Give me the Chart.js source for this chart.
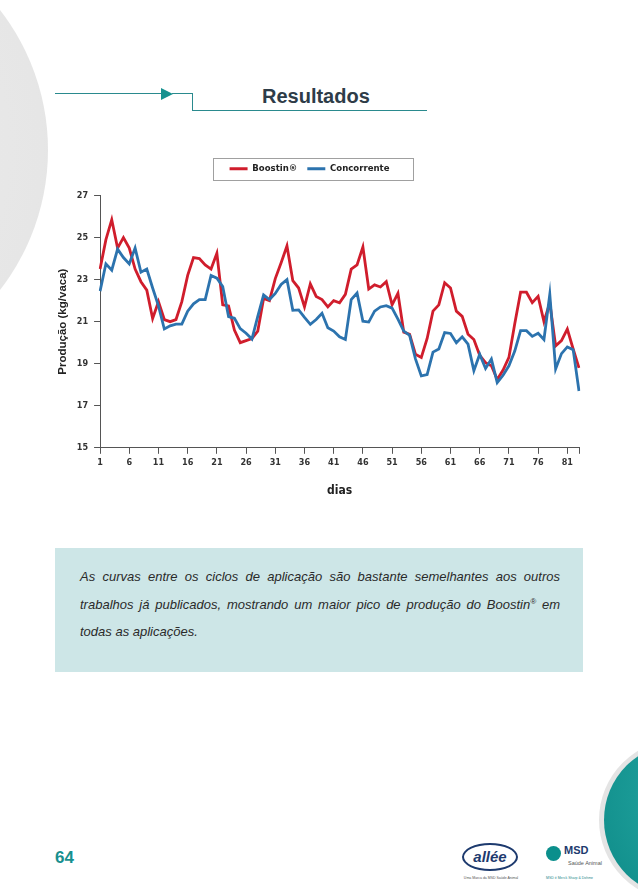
<!DOCTYPE html>
<html>
<head>
<meta charset="utf-8">
<script src="https://cdn.jsdelivr.net/npm/chart.js@4.4.1/dist/chart.umd.min.js"></script>
<style>
body{margin:0;width:638px;height:894px;position:relative;overflow:hidden;background:#fff;font-family:"Liberation Sans",Arial,sans-serif}
#bigCircle{position:absolute;left:-408px;top:-78px;width:456px;height:456px;border-radius:50%;background:radial-gradient(circle at 40% 50%,#eeeeee 0%,#e6e6e6 75%,#e0e0e0 100%)}
#ring{position:absolute;left:599px;top:739px;width:162px;height:162px;border-radius:50%;background:#e4e4e4}
#tealCircle{position:absolute;left:604px;top:743px;width:154px;height:154px;border-radius:50%;background:radial-gradient(circle at 75% 35%,#7cc6c3 0%,#1a9a96 55%,#0d8a87 100%)}
#head1{position:absolute;left:55px;top:93px;width:108px;height:1px;background:#2a8a8e}
#arrow{position:absolute;left:161px;top:88px;width:0;height:0;border-top:6px solid transparent;border-bottom:6px solid transparent;border-left:12px solid #16918f}
#head2{position:absolute;left:172px;top:93px;width:21px;height:1px;background:#2a8a8e}
#head3{position:absolute;left:192px;top:93px;width:1px;height:18px;background:#2a8a8e}
#head4{position:absolute;left:192px;top:110px;width:235px;height:1px;background:#2a8a8e}
#title{position:absolute;left:262px;top:85px;font-weight:bold;font-size:20px;color:#2e3c48}
#chartWrap{position:absolute;left:40px;top:150px;width:560px;height:352px}
#note{position:absolute;left:55px;top:548px;width:528px;height:124px;background:#cde6e7}
.ln{position:absolute;left:25px;width:480px;font-family:"Liberation Sans",Arial,sans-serif;font-style:italic;font-size:13px;color:#2a2a2a;text-align:justify;text-align-last:justify;white-space:nowrap}
.ln.last{text-align-last:left}
sup{font-size:8px;line-height:0}
#page{position:absolute;left:55px;top:848px;font-weight:bold;font-size:17px;color:#17908f}
#vallee{position:absolute;left:462px;top:843px;width:56px;height:28px;border:2px solid #1d3a6e;border-radius:50%;box-sizing:border-box;text-align:center;font-weight:bold;font-style:italic;font-size:15px;line-height:24px;color:#1d3a6e}
#valleeSub{position:absolute;left:454px;top:876px;width:74px;font-size:3.5px;color:#555;text-align:center}
#msdIcon{position:absolute;left:546px;top:846px;width:15px;height:15px;border-radius:50%;background:#0b8f8c}
#msd{position:absolute;left:564px;top:844px;font-weight:bold;font-size:11px;color:#1d3a6e}
#msdSub{position:absolute;left:568px;top:860px;font-size:5.5px;color:#555}
#msdSub2{position:absolute;left:546px;top:876px;font-size:3.5px;color:#2a8a8e}
</style>
</head>
<body>
<div id="bigCircle"></div>
<div id="ring"></div>
<div id="tealCircle"></div>
<div id="head1"></div><div id="arrow"></div><div id="head2"></div><div id="head3"></div><div id="head4"></div>
<div id="title">Resultados</div>
<div id="chartWrap"><canvas id="grafico" width="560" height="352"></canvas></div>
<div id="note">
  <div class="ln" style="top:21px">As curvas entre os ciclos de aplicação são bastante semelhantes aos outros</div>
  <div class="ln" style="top:49px">trabalhos já publicados, mostrando um maior pico de produção do Boostin<sup>®</sup> em</div>
  <div class="ln last" style="top:76px">todas as aplicações.</div>
</div>
<div id="page">64</div>
<div id="vallee">allée</div>
<div id="valleeSub">Uma Marca da MSD Saúde Animal</div>
<div id="msdIcon"></div>
<div id="msd">MSD</div>
<div id="msdSub">Saúde Animal</div>
<div id="msdSub2">MSD é Merck Sharp &amp; Dohme</div>

<script>
// dias 1..83
var dias = [];
for (var d = 1; d <= 83; d++) dias.push(String(d));

var boostin = [23.5, 24.9, 25.85, 24.5, 25.0, 24.5, 23.5, 22.9, 22.5, 21.15,
  21.95, 21.1, 21.0, 21.1, 21.95, 23.2, 24.05, 24.0, 23.7, 23.5,
  24.25, 21.8, 21.75, 20.6, 20.0, 20.1, 20.2, 20.55, 22.1, 22.0,
  23.05, 23.8, 24.6, 22.95, 22.6, 21.7, 22.8, 22.2, 22.05, 21.7,
  22.0, 21.9, 22.3, 23.5, 23.7, 24.55, 22.55, 22.75, 22.65, 22.9,
  21.8, 22.35, 20.5, 20.4, 19.45, 19.3, 20.2, 21.5, 21.8, 22.85,
  22.6, 21.5, 21.25, 20.4, 20.15, 19.4, 19.05, 18.9, 18.25, 18.7,
  19.3, 20.9, 22.4, 22.4, 21.9, 22.2, 21.0, 21.9, 19.85, 20.1,
  20.65, 19.7, 18.8];

var concorrente = [22.45, 23.75, 23.45, 24.45, 24.05, 23.75, 24.5, 23.35, 23.5, 22.6,
  21.75, 20.65, 20.8, 20.88, 20.88, 21.5, 21.85, 22.05, 22.05, 23.2,
  23.07, 22.67, 21.24, 21.16, 20.67, 20.45, 20.17, 21.25, 22.27, 22.05,
  22.34, 22.77, 23.0, 21.54, 21.56, 21.2, 20.87, 21.1, 21.4, 20.71,
  20.55, 20.28, 20.15, 22.05, 22.36, 21.02, 20.98, 21.5, 21.7, 21.76,
  21.64, 21.12, 20.55, 20.35, 19.23, 18.42, 18.48, 19.55, 19.7, 20.48,
  20.44, 20.0, 20.28, 19.93, 18.67, 19.45, 18.77, 19.22, 18.1, 18.45,
  18.9, 19.6, 20.57, 20.57, 20.3, 20.45, 20.15, 22.3, 18.75, 19.48,
  19.8, 19.67, 17.7];

var fonteEstreita = '"DejaVu Sans Condensed", "Liberation Sans Narrow", "Liberation Sans", Arial, sans-serif';

// moldura da legenda
var caixaLegenda = {
  id: 'caixaLegenda',
  beforeInit: function(chart) {
    var fitOriginal = chart.legend.fit;
    chart.legend.fit = function() {
      fitOriginal.bind(chart.legend)();
      this.height += 12;
    };
  },
  afterDraw: function(chart) {
    var boxes = chart.legend.legendHitBoxes;
    if (!boxes || !boxes.length) return;
    var l = 1e9, r = -1e9, t = 1e9, b = -1e9;
    boxes.forEach(function(h) {
      l = Math.min(l, h.left); r = Math.max(r, h.left + h.width);
      t = Math.min(t, h.top); b = Math.max(b, h.top + h.height);
    });
    var ctx = chart.ctx;
    ctx.save();
    ctx.strokeStyle = '#a0a0a0';
    ctx.lineWidth = 1;
    ctx.strokeRect(Math.round(l - 17) + 0.5, Math.round((t + b) / 2 - 11) + 0.5, Math.round(r - l + 40), 22);
    ctx.restore();
  }
};

var ctx = document.getElementById('grafico').getContext('2d');
var myChart = new Chart(ctx, {
  type: 'line',
  data: {
    labels: dias,
    datasets: [
      {
        label: 'Boostin®',
        data: boostin,
        borderColor: '#d01d2c',
        backgroundColor: '#d01d2c',
        borderWidth: 2.8,
        pointRadius: 0,
        tension: 0,
        fill: false,
        order: 1
      },
      {
        label: 'Concorrente',
        data: concorrente,
        borderColor: '#2c73ae',
        backgroundColor: '#2c73ae',
        borderWidth: 2.8,
        pointRadius: 0,
        tension: 0,
        fill: false,
        order: 0
      }
    ]
  },
  options: {
    responsive: false,
    animation: false,
    layout: { padding: { top: 4, right: 21, left: 0, bottom: 0 } },
    plugins: {
      tooltip: { enabled: false },
      legend: {
        display: true,
        position: 'top',
        labels: {
          usePointStyle: true,
          pointStyle: 'line',
          pointStyleWidth: 18,
          boxHeight: 10,
          padding: 10,
          color: '#222',
          font: { family: fonteEstreita, size: 9.5, weight: 'bold' },
          sort: function(a, b) { return a.datasetIndex - b.datasetIndex; }
        }
      }
    },
    scales: {
      x: {
        grid: { display: true, drawOnChartArea: false, drawTicks: true, tickLength: 6, color: function(c) {
          return (c.index % 5 === 0 || c.index === dias.length - 1) ? '#555' : 'rgba(0,0,0,0)';
        } },
        border: { display: true, color: '#555', width: 1 },
        ticks: {
          autoSkip: false,
          maxRotation: 0,
          padding: 3,
          color: '#333',
          font: { family: fonteEstreita, size: 9, weight: 'bold' },
          callback: function(v, i) { return i % 5 === 0 ? dias[i] : ''; }
        },
        title: {
          display: true,
          text: 'dias',
          color: '#222',
          font: { family: fonteEstreita, size: 12, weight: 'bold' },
          padding: { top: 13, bottom: 4 }
        }
      },
      y: {
        min: 15,
        max: 27,
        grid: { display: true, drawOnChartArea: false, drawTicks: true, tickLength: 6, color: '#555' },
        border: { display: true, color: '#555', width: 1 },
        ticks: {
          stepSize: 2,
          padding: 6,
          color: '#333',
          font: { family: fonteEstreita, size: 9, weight: 'bold' }
        },
        title: {
          display: true,
          text: 'Produção (kg/vaca)',
          color: '#222',
          font: { family: '"Liberation Sans", Arial, sans-serif', size: 11.5, weight: 'bold' },
          padding: { top: 16, bottom: 1 }
        }
      }
    }
  },
  plugins: [caixaLegenda]
});
</script>
</body>
</html>
